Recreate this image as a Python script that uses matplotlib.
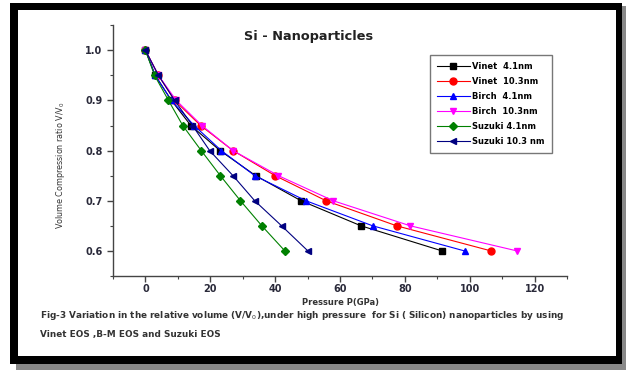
import numpy as np
import matplotlib
matplotlib.use("Agg")
import matplotlib.pyplot as plt
from matplotlib.patches import Rectangle

plt.rcParams['font.family'] = ['DejaVu Sans']
plt.rcParams['mathtext.fontset'] = 'dejavusans'

# relative volume V/V0 (same for every series)
ratio = [1.0, 0.95, 0.9, 0.85, 0.8, 0.75, 0.7, 0.65, 0.6]

# pressure in GPa
vinet_41 = [0, 3, 8, 14, 23, 34, 48, 66.5, 91.5]
vinet_103 = [0, 4, 9, 17, 27, 40, 55.7, 77.5, 106.6]
birch_41 = [0, 3, 8, 15, 23.4, 33.7, 49.5, 70.1, 98.4]
birch_103 = [0, 4, 9.5, 17.4, 27, 41, 57.9, 81.7, 114.6]
suzuki_41 = [0, 2.8, 7.1, 11.5, 17.2, 23.1, 29.3, 35.9, 43]
suzuki_103 = [0, 4, 9, 14.5, 19.8, 27, 33.7, 42, 50.1]

series = [
    ("Vinet  4.1nm", vinet_41, "black", "s"),
    ("Vinet  10.3nm", vinet_103, "red", "o"),
    ("Birch  4.1nm", birch_41, "blue", "^"),
    ("Birch  10.3nm", birch_103, "magenta", "v"),
    ("Suzuki 4.1nm", suzuki_41, "green", "D"),
    ("Suzuki 10.3 nm", suzuki_103, "navy", "<"),
]

fig = plt.figure(figsize=(6.3, 3.7), dpi=100)

# black frame with a grey shadow around the whole figure
frame = [
    Rectangle((0.025, 0.0), 0.968, 0.985, facecolor="#888888"),
    Rectangle((0.016, 0.016), 0.972, 0.976, facecolor="black"),
    Rectangle((0.028, 0.037), 0.949, 0.935, facecolor="white"),
]
for k, r in enumerate(frame):
    r.set_transform(fig.transFigure)
    r.set_edgecolor("none")
    r.set_zorder(-10 + k)
    fig.patches.append(r)

ax = fig.add_axes([0.1794, 0.254, 0.7206, 0.678])
ax.patch.set_alpha(0)

for name, p, c, m in series:
    ms = 5 if m != "D" else 4
    ax.plot(p, ratio, color=c, marker=m, markersize=ms, linewidth=0.8, label=name)

ax.set_xlim(-10, 130)
ax.set_ylim(0.55, 1.05)
ax.set_xticks([0, 20, 40, 60, 80, 100, 120])
ax.set_xticks(np.arange(-10, 131, 10), minor=True)
ax.set_yticks([0.6, 0.7, 0.8, 0.9, 1.0])
ax.set_yticks(np.arange(0.55, 1.051, 0.05), minor=True)
ax.set_yticklabels(["0.6", "0.7", "0.8", "0.9", "1.0"])

for s in ["top", "right"]:
    ax.spines[s].set_visible(False)
for s in ["left", "bottom"]:
    ax.spines[s].set_color("#444444")
    ax.spines[s].set_linewidth(1.0)

ax.tick_params(which="major", direction="out", length=4, width=1, color="#444444",
               labelsize=7, labelcolor="#2a2a3a")
ax.tick_params(axis="x", which="major", pad=1.5)
ax.tick_params(which="minor", direction="out", length=2, width=0.8, color="#444444")
for lab in ax.get_xticklabels() + ax.get_yticklabels():
    lab.set_fontweight("bold")

ax.set_xlabel("Pressure P(GPa)", fontsize=6, fontweight="bold", color="#333333", labelpad=3)
ax.set_ylabel("Volume Compression ratio V/V$_0$", fontsize=5.8, color="#333333")
ax.yaxis.set_label_coords(-0.101, 0.44)

ax.text(0.43, 0.955, "Si - Nanoparticles", transform=ax.transAxes, ha="center", va="center",
        fontsize=9.3, fontweight="bold", color="#222222")

leg = ax.legend(loc="upper left", bbox_to_anchor=(0.698, 0.88), borderaxespad=0,
                prop={"weight": "bold", "size": 6}, frameon=True, fancybox=False,
                handlelength=4, handletextpad=0.3, labelspacing=0.72, borderpad=0.8)
leg.get_frame().set_edgecolor("#555555")
leg.get_frame().set_linewidth(1.0)

fig.text(0.064, 0.148, "Fig-3 Variation in the relative volume (V/V$_0$),under high pressure  for Si ( Silicon) nanoparticles by using",
         fontsize=6.4, fontweight="bold", color="#333333", va="center")
fig.text(0.064, 0.096, "Vinet EOS ,B-M EOS and Suzuki EOS",
         fontsize=6.4, fontweight="bold", color="#333333", va="center")

fig.savefig("out.png", dpi=100)
